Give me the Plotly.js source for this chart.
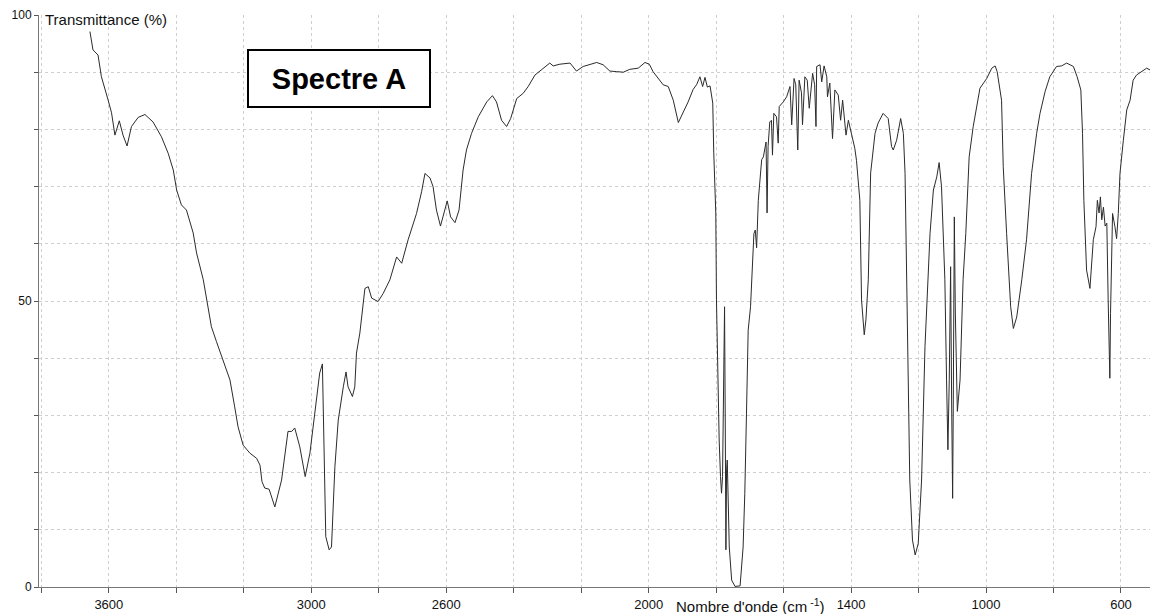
<!DOCTYPE html>
<html>
<head>
<meta charset="utf-8">
<script src="https://cdn.plot.ly/plotly-3.0.1.min.js"></script>
<style>html,body{margin:0;padding:0;background:#fff;}#chart{width:1150px;height:614px;}</style>
</head>
<body>
<div id="chart"></div>
<script>
// Wavenumber (cm-1) and transmittance (%)
const wavenumber = [3656,3647,3632,3622,3602,3592,3582,3569,3558,3546,3533,3513,3493,3469,3444,3424,3409,3399,3385,3370,3350,3340,3320,3310,3296,3281,3261,3241,3227,3217,3202,3182,3162,3152,3146,3138,3125,3108,3088,3069,3058,3049,3034,3018,3004,2989,2975,2967,2963,2957,2947,2940,2930,2920,2905,2897,2891,2878,2871,2866,2856,2841,2831,2821,2802,2787,2767,2747,2732,2713,2688,2673,2663,2648,2639,2629,2617,2607,2597,2587,2574,2562,2550,2540,2525,2505,2480,2463,2451,2436,2421,2409,2391,2372,2357,2337,2317,2293,2283,2263,2233,2214,2194,2174,2154,2135,2115,2095,2075,2056,2031,2011,1998,1987,1967,1957,1942,1927,1912,1898,1883,1868,1858,1848,1840,1833,1826,1818,1810,1807,1801,1799,1797,1791,1787,1784,1781,1777,1775,1773,1771,1769,1767,1761,1754,1744,1729,1720,1715,1710,1705,1698,1695,1692,1688,1684,1680,1675,1670,1665,1660,1652,1649,1646,1641,1636,1633,1629,1621,1616,1613,1601,1591,1581,1576,1569,1564,1558,1554,1547,1544,1537,1530,1524,1514,1508,1504,1502,1492,1487,1480,1472,1470,1463,1455,1448,1438,1431,1425,1415,1408,1398,1389,1384,1374,1369,1366,1361,1356,1349,1342,1329,1320,1305,1290,1280,1275,1265,1253,1245,1240,1235,1230,1226,1218,1210,1201,1191,1181,1171,1166,1156,1146,1139,1132,1127,1122,1117,1113,1109,1105,1102,1099,1097,1094,1091,1085,1077,1068,1060,1050,1038,1028,1018,998,983,973,967,954,949,939,931,927,919,909,894,880,865,850,840,825,811,791,776,761,741,730,719,714,710,702,692,682,674,670,665,661,657,652,647,642,638,635,633,631,628,625,618,613,608,603,593,583,573,564,554,539,524,514];
const transmittance = [97.1,93.9,93.0,89.2,85.1,82.9,79.0,81.5,79.0,77.1,80.5,82.1,82.6,81.3,78.7,75.8,72.9,69.4,66.8,65.9,61.9,58.4,53.7,50.2,45.5,42.9,39.7,36.2,31.5,28.0,24.8,23.4,22.5,21.3,18.4,17.3,17.1,14.0,18.7,27.2,27.2,27.8,24.5,19.3,23.4,30.4,37.4,39.0,25.7,8.8,6.5,7.0,21.0,29.2,35.0,37.6,35.0,33.3,35.0,40.9,44.4,52.2,52.5,50.5,49.9,51.3,53.7,57.7,56.6,60.7,65.3,69.1,72.3,71.5,70.0,65.9,63.1,65.3,67.5,64.7,63.7,65.9,72.9,76.4,79.3,82.2,84.8,85.9,84.8,81.6,80.5,81.9,85.4,86.3,87.5,89.5,90.4,91.6,91.1,91.4,91.6,90.2,91.0,91.3,91.7,91.3,90.2,90.1,90.0,90.5,90.7,91.7,91.4,90.1,88.6,87.8,87.5,85.1,81.2,82.8,84.8,87.0,87.8,89.2,87.5,89.1,87.4,87.6,84.6,75.9,65.4,50.2,42.0,25.7,19.3,16.4,19.3,36.2,49.0,29.2,6.5,20.5,22.2,7.0,1.2,0.1,0.2,7.0,16.4,30.4,44.9,49.0,53.7,58.9,61.8,62.4,59.3,67.6,70.6,74.7,75.2,77.8,65.4,77.0,81.3,81.6,75.5,82.8,82.2,77.6,84.0,84.8,85.7,87.5,80.8,88.9,87.8,76.4,88.6,86.4,80.8,89.2,88.6,83.7,89.8,87.8,80.5,91.0,91.3,88.3,91.1,89.2,85.7,88.1,78.4,86.9,86.0,81.6,85.1,79.0,81.6,79.3,76.7,74.6,67.6,50.2,47.8,44.1,46.7,53.7,72.4,79.3,81.1,82.8,81.9,77.0,76.4,78.1,81.9,79.3,72.3,53.7,36.2,18.7,8.2,5.6,7.6,18.7,42.0,53.7,61.8,69.4,71.7,74.2,70.0,61.9,53.7,36.2,24.0,36.2,56.0,32.7,15.5,32.7,64.7,47.9,30.7,36.2,53.7,61.8,75.2,80.5,84.0,87.2,88.9,90.7,91.1,90.1,85.1,73.5,61.8,53.7,49.0,45.2,47.2,53.7,60.7,72.3,79.3,82.8,86.6,89.2,91.0,91.1,91.6,91.0,89.2,86.9,79.3,67.6,55.4,52.2,60.7,63.0,67.6,65.4,68.2,64.2,66.4,63.1,63.6,50.2,42.0,36.5,47.8,56.0,65.3,63.0,60.9,65.3,72.3,78.1,83.4,85.1,88.6,89.5,90.1,90.7,90.4];

const xTickVals = [3800,3600,3400,3200,3000,2800,2600,2400,2200,2000,1800,1600,1400,1200,1000,800,600];
const xTickText = ['','3600','','','3000','','2600','','','2000','','','1400','','1000','','600'];
const yTickVals = [0,10,20,30,40,50,60,70,80,90,100];
const yTickText = ['0','','','','','50','','','','','100'];

const FONT = 'Arial, "Liberation Sans", sans-serif';

const trace = {
  x: wavenumber, y: transmittance, type: 'scatter', mode: 'lines',
  line: {color: '#2b2b2b', width: 1}, hoverinfo: 'skip'
};

const layout = {
  width: 1150, height: 614,
  margin: {l: 39, r: 0, t: 15, b: 27},
  paper_bgcolor: '#fff', plot_bgcolor: '#fff',
  showlegend: false,
  font: {family: FONT, size: 12, color: '#222'},
  xaxis: {
    range: [3807, 514], autorange: false,
    tickmode: 'array', tickvals: xTickVals, ticktext: xTickText,
    ticks: 'outside', ticklen: 5, tickcolor: '#555', tickwidth: 1,
    showline: true, linecolor: '#777', linewidth: 1,
    showgrid: true, gridcolor: '#cfcfcf', griddash: 'dot', gridwidth: 1,
    zeroline: false, tickfont: {family: FONT, size: 13, color: '#111'}
  },
  yaxis: {
    range: [0, 100], autorange: false,
    tickmode: 'array', tickvals: yTickVals, ticktext: yTickText,
    ticks: 'outside', ticklen: 4, tickcolor: '#555', tickwidth: 1,
    showline: true, linecolor: '#777', linewidth: 1,
    showgrid: true, gridcolor: '#cfcfcf', griddash: 'dot', gridwidth: 1,
    zeroline: false, tickfont: {family: FONT, size: 12, color: '#111'}
  },
  annotations: [
    {text: 'Transmittance (%)', xref: 'paper', yref: 'paper', x: 0.004, y: 0.993,
     xanchor: 'left', yanchor: 'middle', showarrow: false,
     font: {family: FONT, size: 15, color: '#111'}},
    {text: "Nombre d'onde (cm<sup> -1</sup>)", xref: 'paper', yref: 'paper', x: 0.5715, y: -0.032,
     xanchor: 'left', yanchor: 'middle', showarrow: false,
     font: {family: FONT, size: 15, color: '#111'}},
    {text: '<b>Spectre A</b>', xref: 'paper', yref: 'paper', x: 0.2700, y: 0.889,
     xanchor: 'center', yanchor: 'middle', showarrow: false,
     width: 178, height: 53, bordercolor: '#000', borderwidth: 2, bgcolor: '#fff',
     font: {family: FONT, size: 29, color: '#000'}}
  ]
};

Plotly.newPlot('chart', [trace], layout, {staticPlot: true, displayModeBar: false});
</script>
</body>
</html>
